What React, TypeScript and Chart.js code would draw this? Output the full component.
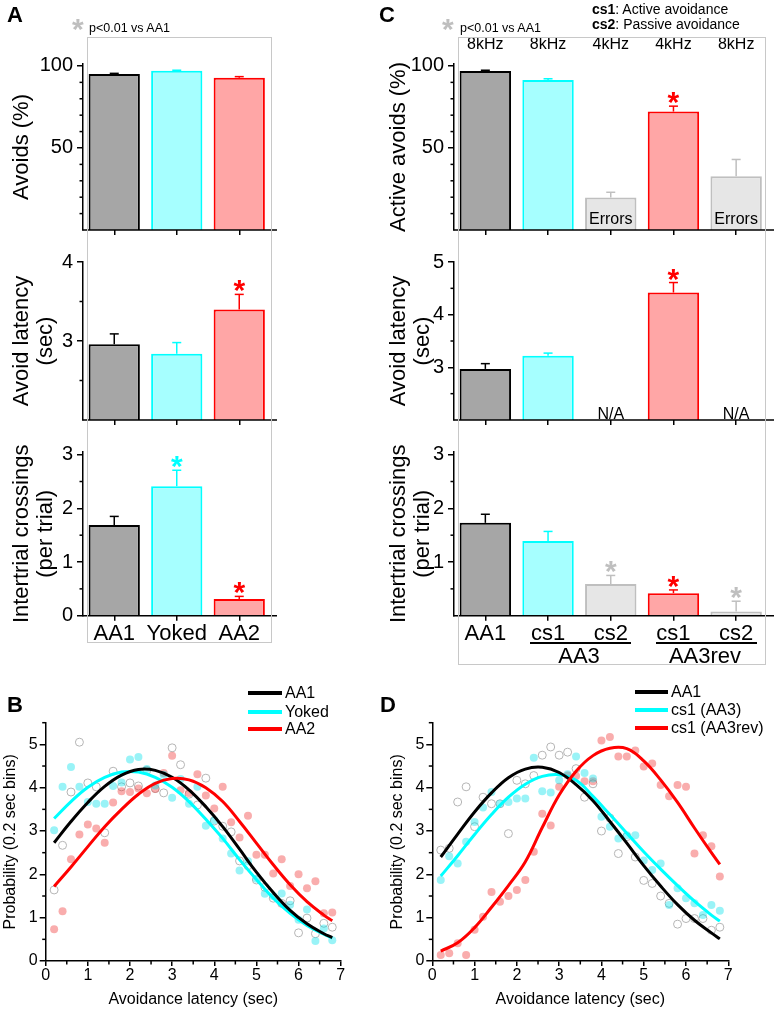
import React, { useEffect, useRef } from 'react';
import { Chart, registerables } from 'chart.js';
Chart.register(...registerables);

const FONT = "'Liberation Sans', Arial, Helvetica, sans-serif";

// ---------------- Panel A data ----------------
const A_GROUPS = ['AA1', 'Yoked', 'AA2'];
const A_AVOIDS = [95.1, 97.1, 92.8];
const A_AVOIDS_SEM = [0.4, 0.3, 0.7];
const A_LATENCY = [2.96, 2.84, 3.4];
const A_LATENCY_SEM = [0.13, 0.14, 0.19];
const A_CROSSINGS = [1.69, 2.41, 0.31];
const A_CROSSINGS_SEM = [0.16, 0.3, 0.05];
const A_SIG_AVOIDS = [false, false, false];
const A_SIG_LATENCY = [false, false, true];
const A_SIG_CROSSINGS = [false, true, true];

// ---------------- Panel C data ----------------
const C_GROUPS = ['AA1', 'cs1', 'cs2', 'cs1', 'cs2'];
const C_SESSIONS = ['AA3', 'AA3rev'];
const C_TONES = ['8kHz', '8kHz', '4kHz', '4kHz', '8kHz'];
const C_AVOIDS = [96.9, 91.4, 19.8, 72.2, 32.8];
const C_AVOIDS_SEM = [0.5, 0.8, 3.2, 3.3, 10.2];
const C_LATENCY = [2.97, 3.22, null, 4.42, null];
const C_LATENCY_SEM = [0.1, 0.05, null, 0.19, null];
const C_CROSSINGS = [1.73, 1.39, 0.59, 0.42, 0.08];
const C_CROSSINGS_SEM = [0.16, 0.18, 0.16, 0.06, 0.19];
const C_SIG_AVOIDS = [false, false, false, true, false];
const C_SIG_LATENCY = [false, false, false, true, false];
const C_SIG_CROSSINGS = [false, false, true, true, true];
const C_NOTES_AVOIDS = ['', '', 'Errors', '', 'Errors'];
const C_NOTES_LATENCY = ['', '', 'N/A', '', 'N/A'];

// ---------------- tick labels ----------------
const AVOID_TICKS = [50, 100];
const A_LAT_TICKS = [3, 4];
const C_LAT_TICKS = [3, 4, 5];
const A_CROSS_TICKS = [0, 1, 2, 3];
const C_CROSS_TICKS = [1, 2, 3];
const PROB_X_TICKS = [0, 1, 2, 3, 4, 5, 6, 7];
const PROB_Y_TICKS = [0, 1, 2, 3, 4, 5];

// ---------------- Panels B / D data ----------------
const LATENCY_BINS = [0.2, 0.4, 0.6, 0.8, 1.0, 1.2, 1.4, 1.6, 1.8, 2.0, 2.2, 2.4, 2.6, 2.8, 3.0, 3.2, 3.4,
  3.6, 3.8, 4.0, 4.2, 4.4, 4.6, 4.8, 5.0, 5.2, 5.4, 5.6, 5.8, 6.0, 6.2, 6.4, 6.6, 6.8];
const FIT_X = [0.2, 0.6, 1.0, 1.4, 1.8, 2.2, 2.6, 3.0, 3.4, 3.8, 4.2, 4.6, 5.0, 5.4, 5.8, 6.2, 6.6, 6.8];

const B_SERIES = ['AA1', 'Yoked', 'AA2'];
const B_AA1_PTS = [1.64, 2.67, 3.9, 5.05, 4.11, 4.02, 2.96, 4.38, 4.02, 4.11, 4.04, 4.4, 3.98, 3.88, 4.92, 4.53, 3.85,
  3.6, 4.22, 3.23, 3.11, 2.98, 2.31, 2.2, 1.87, 1.7, 1.45, 1.33, 1.39, 0.65, 0.99, 0.63, 0.87, 0.78];
const B_YOKED_PTS = [3.02, 4.02, 4.48, 4.02, 3.67, 3.63, 3.63, 4.04, 4.12, 4.65, 4.71, 4.43, 4.05, 4.3, 3.77, 4.2, 3.63,
  4.02, 3.12, 3.25, 2.83, 2.48, 2.09, 2.3, 1.9, 1.55, 1.5, 1.56, 1.3, 0.95, 1.19, 0.46, 0.75, 0.48];
const B_AA2_PTS = [0.73, 1.15, 2.35, 2.92, 3.15, 3.06, 2.73, 3.66, 3.92, 3.9, 3.98, 3.87, 3.97, 4.34, 4.74, 3.94, 3.88,
  4.31, 3.82, 3.52, 4.02, 3.2, 2.85, 3.35, 2.45, 2.45, 2.02, 2.35, 1.73, 2.0, 1.68, 1.84, 1.1, 1.12];
const B_AA1_FIT = [2.73, 3.22, 3.66, 4.03, 4.29, 4.42, 4.4, 4.24, 3.95, 3.56, 3.1, 2.58, 2.05, 1.58, 1.17, 0.86, 0.63, 0.54];
const B_YOKED_FIT = [3.29, 3.68, 4.01, 4.24, 4.36, 4.36, 4.24, 4.01, 3.68, 3.27, 2.83, 2.34, 1.88, 1.45, 1.1, 0.82, 0.62, 0.53];
const B_AA2_FIT = [1.72, 2.17, 2.64, 3.1, 3.5, 3.85, 4.1, 4.21, 4.18, 4.0, 3.68, 3.22, 2.72, 2.22, 1.76, 1.37, 1.06, 0.93];

const D_SERIES = ['AA1', 'cs1 (AA3)', 'cs1 (AA3rev)'];
const D_AA1_PTS = [2.56, 2.6, 3.67, 4.02, 3.1, 3.78, 3.63, 3.63, 2.94, 4.17, 4.09, 4.28, 4.75, 4.94, 4.75, 4.82, 4.44,
  3.78, 4.09, 3.0, 3.3, 2.48, 2.87, 2.4, 1.86, 1.79, 1.5, 1.33, 0.85, 0.98, 0.98, 0.98, 0.71, 0.78];
const D_CS1_PTS = [1.87, 2.42, 2.25, 2.75, 3.21, 3.54, 3.9, 3.63, 3.67, 3.75, 3.75, 4.69, 3.92, 3.89, 4.17, 4.31, 4.72,
  4.34, 4.21, 3.33, 3.1, 2.83, 2.9, 2.9, 2.32, 2.1, 2.25, 1.29, 1.68, 1.45, 1.33, 1.06, 1.29, 1.16];
const D_REV_PTS = [0.14, 0.18, 0.41, 0.14, 0.72, 1.02, 1.59, 1.37, 1.5, 1.64, 1.87, 2.52, 3.4, 3.13, 4.02, 4.28, 4.27,
  4.15, 4.15, 5.09, 5.17, 4.72, 4.72, 4.86, 4.49, 4.56, 4.06, 3.8, 4.06, 4.02, 2.48, 2.9, 2.65, 1.95];
const D_AA1_FIT = [2.4, 2.93, 3.44, 3.88, 4.23, 4.43, 4.47, 4.35, 4.07, 3.7, 3.22, 2.72, 2.2, 1.73, 1.3, 0.94, 0.65, 0.51];
const D_CS1_FIT = [1.96, 2.43, 2.92, 3.38, 3.78, 4.08, 4.26, 4.3, 4.17, 3.8, 3.38, 2.95, 2.52, 2.12, 1.74, 1.38, 1.06, 0.92];
const D_REV_FIT = [0.23, 0.42, 0.77, 1.24, 1.74, 2.29, 3.08, 3.83, 4.38, 4.74, 4.91, 4.9, 4.62, 4.18, 3.66, 3.07, 2.5, 2.23];

// ---------------- styles ----------------
const BLACK = '#000000';
const GRAY_FILL = '#a6a6a6';
const CYAN_FILL = '#a6ffff';
const CYAN_LINE = '#00ffff';
const RED_FILL = '#ffa6a6';
const RED_LINE = '#ff0000';
const LIGHT_FILL = '#e6e6e6';
const LIGHT_LINE = '#bfbfbf';
const A_FILLS = [GRAY_FILL, CYAN_FILL, RED_FILL];
const A_LINES = [BLACK, CYAN_LINE, RED_LINE];
const C_FILLS = [GRAY_FILL, CYAN_FILL, LIGHT_FILL, RED_FILL, LIGHT_FILL];
const C_LINES = [BLACK, CYAN_LINE, LIGHT_LINE, RED_LINE, LIGHT_LINE];
const SERIES_LINE = [BLACK, CYAN_LINE, RED_LINE];
const PT_FILL = ['rgba(0,0,0,0)', 'rgba(0,225,235,0.4)', 'rgba(240,60,60,0.42)'];
const PT_EDGE = ['#b5b5b5', 'rgba(0,0,0,0)', 'rgba(0,0,0,0)'];
const BOX_COLOR = '#c8c8c8';

function drawStar(ctx: any, x: number, yBottom: number, color: string) {
  ctx.save();
  ctx.font = `bold 30px ${FONT}`;
  ctx.fillStyle = color;
  ctx.textAlign = 'center';
  ctx.textBaseline = 'alphabetic';
  const m = ctx.measureText('*');
  ctx.fillText('*', x, yBottom - m.actualBoundingBoxDescent);
  ctx.restore();
}

function line(ctx: any, x1: number, y1: number, x2: number, y2: number) {
  ctx.beginPath();
  ctx.moveTo(x1, y1);
  ctx.lineTo(x2, y2);
  ctx.stroke();
}

function barConfig(s: any) {
  const plugin = {
    id: 'barExtras',
    afterDatasetsDraw(chart: any) {
      const ctx = chart.ctx;
      const ys = chart.scales.y;
      const xs = chart.scales.x;
      const area = chart.chartArea;
      ctx.save();
      s.values.forEach((v: number | null, i: number) => {
        const x = xs.getPixelForValue(i);
        if (v != null) {
          const e = s.sems[i] || 0;
          const yTop = ys.getPixelForValue(v + e);
          const yBar = ys.getPixelForValue(v);
          ctx.strokeStyle = s.lines[i];
          ctx.lineWidth = 1.5;
          line(ctx, x, yBar, x, yTop);
          line(ctx, x - 4.5, yTop, x + 4.5, yTop);
          if (s.sig[i]) drawStar(ctx, x, yTop - 2, s.lines[i]);
        }
        if (s.notes && s.notes[i]) {
          ctx.font = `16px ${FONT}`;
          ctx.fillStyle = '#000';
          ctx.textAlign = 'center';
          ctx.textBaseline = 'alphabetic';
          ctx.fillText(s.notes[i], x, area.bottom - s.noteLift);
        }
        if (s.tops) {
          ctx.font = `16px ${FONT}`;
          ctx.fillStyle = '#000';
          ctx.textAlign = 'center';
          ctx.textBaseline = 'middle';
          ctx.fillText(s.tops[i], x, area.top - 19);
        }
      });
      ctx.restore();
    },
    afterDraw(chart: any) {
      const ctx = chart.ctx;
      const ys = chart.scales.y;
      const area = chart.chartArea;
      ctx.save();
      ctx.strokeStyle = BLACK;
      ctx.lineWidth = 1.5;
      line(ctx, area.left - 0.75, area.bottom, area.right + 6.5, area.bottom);
      for (let k = 1; s.min + k * s.minorStep < s.max + 1e-9; k++) {
        const v = s.min + k * s.minorStep;
        if (s.ticks.some((t: number) => Math.abs(t - v) < 1e-6)) continue;
        const py = ys.getPixelForValue(v);
        line(ctx, area.left - 3.5, py, area.left, py);
      }
      ctx.restore();
    },
  };
  return {
    type: 'bar',
    data: {
      labels: s.labels,
      datasets: [{
        data: s.values,
        backgroundColor: s.fills,
        borderColor: s.lines,
        borderWidth: 2,
        barPercentage: 0.82,
        categoryPercentage: 1,
        borderSkipped: 'start',
      }],
    },
    options: {
      animation: false,
      responsive: false,
      maintainAspectRatio: false,
      devicePixelRatio: 1,
      events: [],
      layout: { autoPadding: false, padding: { top: s.padTop, right: s.padRight, bottom: 0, left: 0 } },
      plugins: { legend: { display: false }, tooltip: { enabled: false } },
      scales: {
        x: {
          type: 'category',
          offset: true,
          grid: { display: true, drawOnChartArea: false, drawTicks: true, tickLength: 5, color: BLACK, lineWidth: 1.5, offset: false },
          border: { display: false },
          ticks: { display: s.showLabels, font: { family: FONT, size: 22 }, color: BLACK, padding: 0, maxRotation: 0, autoSkip: false },
          afterFit: (sc: any) => { sc.height = s.xHeight; },
        },
        y: {
          min: s.min,
          max: s.max,
          afterBuildTicks: (sc: any) => { sc.ticks = s.ticks.map((v: number) => ({ value: v })); },
          grid: { display: true, drawOnChartArea: false, drawTicks: true, tickLength: 6, color: BLACK, lineWidth: 1.5 },
          border: { display: true, color: BLACK, width: 1.5 },
          ticks: { font: { family: FONT, size: 20 }, color: BLACK, padding: 4 },
          title: { display: true, text: s.title, color: BLACK, font: { family: FONT, size: 22, lineHeight: 1.1 }, padding: { top: s.titlePad, bottom: 0 } },
          afterFit: (sc: any) => { sc.width = s.yWidth; },
        },
      },
    },
    plugins: [plugin],
  };
}

function probConfig(s: any) {
  const pts = (ys: number[]) => LATENCY_BINS.map((x, i) => ({ x, y: ys[i] }));
  const fit = (ys: number[]) => FIT_X.map((x, i) => ({ x, y: ys[i] }));
  const order = [2, 0, 1];
  const fitSets = order.map((k) => ({
    data: fit(s.fits[k]), showLine: true, borderColor: SERIES_LINE[k], borderWidth: 3,
    pointRadius: 0, tension: 0.4, fill: false,
  }));
  const ptSets = [1, 2, 0].map((k) => ({
    data: pts(s.points[k]), showLine: false, pointRadius: 4, pointBorderWidth: 1,
    pointBackgroundColor: PT_FILL[k], pointBorderColor: PT_EDGE[k],
  }));
  const plugin = {
    id: 'minorTicks',
    afterDraw(chart: any) {
      const ctx = chart.ctx;
      const a = chart.chartArea;
      const xs = chart.scales.x;
      const ys = chart.scales.y;
      ctx.save();
      ctx.strokeStyle = BLACK;
      ctx.lineWidth = 1.5;
      for (let k = 0; k < 7; k++) {
        const px = xs.getPixelForValue(k + 0.5);
        line(ctx, px, a.bottom, px, a.bottom + 3.5);
      }
      for (let k = 0; k < 6; k++) {
        const py = ys.getPixelForValue(k + 0.5);
        line(ctx, a.left - 3.5, py, a.left, py);
      }
      ctx.restore();
    },
  };
  return {
    type: 'scatter',
    data: { datasets: [...fitSets, ...ptSets] },
    options: {
      animation: false,
      responsive: false,
      maintainAspectRatio: false,
      devicePixelRatio: 1,
      events: [],
      layout: { autoPadding: false, padding: { top: s.padTop, right: s.padRight, bottom: 0, left: 0 } },
      plugins: { legend: { display: false }, tooltip: { enabled: false } },
      scales: {
        x: {
          type: 'linear', min: 0, max: 7,
          afterBuildTicks: (sc: any) => { sc.ticks = PROB_X_TICKS.map((v) => ({ value: v })); },
          grid: { display: true, drawOnChartArea: false, drawTicks: true, tickLength: 5, color: BLACK, lineWidth: 1.5 },
          border: { display: true, color: BLACK, width: 1.5 },
          ticks: { font: { family: FONT, size: 16 }, color: BLACK, padding: 0 },
          title: { display: true, text: 'Avoidance latency (sec)', color: BLACK, font: { family: FONT, size: 16 }, padding: { top: 0, bottom: 1.4 } },
          afterFit: (sc: any) => { sc.height = s.xHeight; },
        },
        y: {
          type: 'linear', min: 0, max: 5.5,
          afterBuildTicks: (sc: any) => { sc.ticks = PROB_Y_TICKS.map((v) => ({ value: v })); },
          grid: { display: true, drawOnChartArea: false, drawTicks: true, tickLength: 6, color: BLACK, lineWidth: 1.5 },
          border: { display: true, color: BLACK, width: 1.5 },
          ticks: { font: { family: FONT, size: 16 }, color: BLACK, padding: 2 },
          title: { display: true, text: 'Probability (0.2 sec bins)', color: BLACK, font: { family: FONT, size: 16 }, padding: { top: 1, bottom: 0 } },
          afterFit: (sc: any) => { sc.width = s.yWidth; },
        },
      },
    },
    plugins: [plugin],
  };
}

const A_GEO = { x: 0, w: 290, yWidth: 83, padRight: 19.5, titlePad: 10 };
const C_GEO = { x: 375, w: 400, yWidth: 79, padRight: 7.5, titlePad: 12 };
const ROW1 = { y: 0, h: 246, padTop: 64, xHeight: 10, min: 0, max: 101.2, minorStep: 10 };
const ROW2 = { y: 246, h: 190, padTop: 9.7, xHeight: 10, min: 2, minorStep: 0.5 };
const ROW3 = { y: 436, h: 230, padTop: 6.8, xHeight: 50.3, min: 0, max: 3.05, minorStep: 0.5 };

const CHARTS: any[] = [
  { ...A_GEO, ...ROW1, cfg: () => barConfig({ ...A_GEO, ...ROW1, labels: A_GROUPS, values: A_AVOIDS, sems: A_AVOIDS_SEM, sig: A_SIG_AVOIDS, fills: A_FILLS, lines: A_LINES, ticks: AVOID_TICKS, title: 'Avoids (%)', showLabels: false }) },
  { ...A_GEO, ...ROW2, cfg: () => barConfig({ ...A_GEO, ...ROW2, max: 4, labels: A_GROUPS, values: A_LATENCY, sems: A_LATENCY_SEM, sig: A_SIG_LATENCY, fills: A_FILLS, lines: A_LINES, ticks: A_LAT_TICKS, title: ['Avoid latency', '(sec)'], showLabels: false }) },
  { ...A_GEO, ...ROW3, cfg: () => barConfig({ ...A_GEO, ...ROW3, labels: A_GROUPS, values: A_CROSSINGS, sems: A_CROSSINGS_SEM, sig: A_SIG_CROSSINGS, fills: A_FILLS, lines: A_LINES, ticks: A_CROSS_TICKS, title: ['Intertrial crossings', '(per trial)'], showLabels: true }) },
  { ...C_GEO, ...ROW1, cfg: () => barConfig({ ...C_GEO, ...ROW1, labels: C_GROUPS, values: C_AVOIDS, sems: C_AVOIDS_SEM, sig: C_SIG_AVOIDS, fills: C_FILLS, lines: C_LINES, ticks: AVOID_TICKS, title: 'Active avoids (%)', showLabels: false, notes: C_NOTES_AVOIDS, noteLift: 6.5, tops: C_TONES }) },
  { ...C_GEO, ...ROW2, cfg: () => barConfig({ ...C_GEO, ...ROW2, max: 5, labels: C_GROUPS, values: C_LATENCY, sems: C_LATENCY_SEM, sig: C_SIG_LATENCY, fills: C_FILLS, lines: C_LINES, ticks: C_LAT_TICKS, title: ['Avoid latency', '(sec)'], showLabels: false, notes: C_NOTES_LATENCY, noteLift: 1 }) },
  { ...C_GEO, ...ROW3, cfg: () => barConfig({ ...C_GEO, ...ROW3, labels: C_GROUPS, values: C_CROSSINGS, sems: C_CROSSINGS_SEM, sig: C_SIG_CROSSINGS, fills: C_FILLS, lines: C_LINES, ticks: C_CROSS_TICKS, title: ['Intertrial crossings', '(per trial)'], showLabels: true }) },
  { x: 0, y: 680, w: 375, h: 331, cfg: () => probConfig({ yWidth: 45.7, padRight: 34.3, padTop: 42.7, xHeight: 50, points: [B_AA1_PTS, B_YOKED_PTS, B_AA2_PTS], fits: [B_AA1_FIT, B_YOKED_FIT, B_AA2_FIT] }) },
  { x: 387, y: 680, w: 388, h: 331, cfg: () => probConfig({ yWidth: 45.3, padRight: 46.7, padTop: 42.7, xHeight: 50, points: [D_AA1_PTS, D_CS1_PTS, D_REV_PTS], fits: [D_AA1_FIT, D_CS1_FIT, D_REV_FIT] }) },
];

function Txt(p: any) {
  const size = p.size;
  return (
    <div style={{
      position: 'absolute', left: p.x, top: p.cy - size * 0.49, fontSize: size, lineHeight: `${size}px`,
      fontWeight: p.bold ? 'bold' : 'normal', color: p.color || BLACK, whiteSpace: 'nowrap', fontFamily: FONT,
      transform: p.center ? 'translateX(-50%)' : undefined,
    }}>{p.children}</div>
  );
}

function Box(p: any) {
  return <div style={{ position: 'absolute', left: p.x, top: p.y, width: p.w, height: p.h, border: `1.5px solid ${BOX_COLOR}`, boxSizing: 'border-box' }} />;
}

function HLine(p: any) {
  return <div style={{ position: 'absolute', left: p.x, top: p.y, width: p.w, height: p.t || 1.5, background: p.color || BLACK }} />;
}

function Legend(p: any) {
  return (
    <>
      {p.names.map((n: string, i: number) => (
        <React.Fragment key={n}>
          <HLine x={p.x1} y={p.ys[i] - 2} w={p.x2 - p.x1} t={4} color={SERIES_LINE[i]} />
          <Txt x={p.tx} cy={p.ys[i]} size={16}>{n}</Txt>
        </React.Fragment>
      ))}
    </>
  );
}

export default function App() {
  const refs = useRef<(HTMLCanvasElement | null)[]>([]);
  useEffect(() => {
    const charts = CHARTS.map((c, i) => new Chart(refs.current[i] as any, c.cfg()));
    return () => charts.forEach((c) => c.destroy());
  }, []);
  return (
    <div style={{ position: 'absolute', left: 0, top: 0, width: 775, height: 1011, background: '#fff', fontFamily: FONT, overflow: 'hidden' }}>
      {CHARTS.map((c, i) => (
        <canvas key={i} ref={(el) => { refs.current[i] = el; }} width={c.w} height={c.h}
          style={{ position: 'absolute', left: c.x, top: c.y, width: c.w, height: c.h }} />
      ))}
      <Box x={86.7} y={36.7} w={185} h={606.6} />
      <Box x={457.7} y={36.7} w={308.3} h={628.3} />

      <Txt x={7} cy={15} size={22} bold>A</Txt>
      <Txt x={379} cy={15} size={22} bold>C</Txt>
      <Txt x={7} cy={705} size={22} bold>B</Txt>
      <Txt x={380} cy={705} size={22} bold>D</Txt>

      <Txt x={72} cy={29} size={30} color={LIGHT_LINE} bold>*</Txt>
      <Txt x={89} cy={28} size={12.5}>p&lt;0.01 vs AA1</Txt>
      <Txt x={442} cy={29} size={30} color={LIGHT_LINE} bold>*</Txt>
      <Txt x={460} cy={28} size={12.5}>p&lt;0.01 vs AA1</Txt>

      <Txt x={592} cy={9} size={14}><b>cs1</b>: Active avoidance</Txt>
      <Txt x={592} cy={24} size={14}><b>cs2</b>: Passive avoidance</Txt>

      <HLine x={530} y={642} w={101} />
      <HLine x={656} y={642} w={101} />
      <Txt x={579} cy={656} size={22} center>{C_SESSIONS[0]}</Txt>
      <Txt x={705} cy={656} size={22} center>{C_SESSIONS[1]}</Txt>

      <Legend names={B_SERIES} x1={248} x2={282} tx={285} ys={[693.3, 711.7, 729.3]} />
      <Legend names={D_SERIES} x1={635} x2={668} tx={671} ys={[692.3, 710, 728.3]} />
    </div>
  );
}
